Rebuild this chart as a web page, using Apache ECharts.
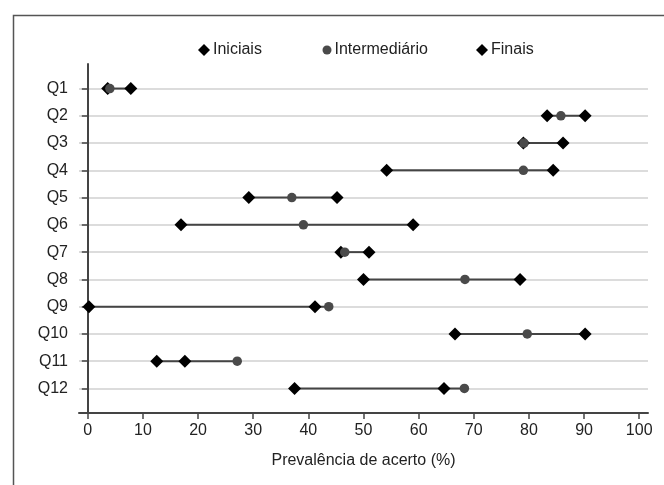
<!DOCTYPE html>
<html>
<head>
<meta charset="utf-8">
<script src="https://cdn.jsdelivr.net/npm/echarts@6/dist/echarts.min.js"></script>
<style>html,body{margin:0;padding:0;background:#fff}#c{width:664px;height:485px}</style>
</head>
<body>
<div id="c"></div>
<script>
const categories = ['Q1','Q2','Q3','Q4','Q5','Q6','Q7','Q8','Q9','Q10','Q11','Q12'];
const iniciais = [3.6, 83.3, 79.0, 54.2, 29.2, 16.9, 45.9, 50.0, 0.2, 66.6, 12.5, 37.5];
const intermediario = [4.0, 85.8, 79.1, 79.0, 37.0, 39.1, 46.6, 68.4, 43.7, 79.7, 27.1, 68.3];
const finais = [7.8, 90.2, 86.2, 84.4, 45.2, 59.0, 51.0, 78.4, 41.2, 90.2, 17.6, 64.6];
const xTicks = [0, 10, 20, 30, 40, 50, 60, 70, 80, 90, 100];
const rowPos = categories.map((c, i) => i + 1);

const FONT = 'Liberation Sans';
const chart = echarts.init(document.getElementById('c'), null, {renderer: 'canvas'});

const connectors = categories.map((c, i) => {
  const vals = [iniciais[i], intermediario[i], finais[i]];
  return [Math.min(...vals), Math.max(...vals), rowPos[i]];
});

function legendAt(left, name, size) {
  return {
    data: [name], left: left, top: 37, itemWidth: size, itemHeight: size, itemGap: 4,
    textStyle: {fontFamily: FONT, fontSize: 16, lineHeight: 16, height: 16, color: '#222', padding: [0, 0, 0, -2]},
    selectedMode: false
  };
}

chart.setOption({
  animation: false,
  backgroundColor: '#fff',
  graphic: [{
    type: 'rect', left: 11, top: 13, shape: {width: 720, height: 520},
    style: {fill: 'none', stroke: '#555', lineWidth: 1.5}, silent: true
  }],
  legend: [legendAt(193, 'Iniciais', 12), legendAt(317.5, 'Intermediário', 9), legendAt(471, 'Finais', 12)],
  grid: {left: 79, right: 16, top: 64, bottom: 72, containLabel: false},
  xAxis: {
    type: 'value', min: -1.6, max: 101.6,
    axisLine: {show: true, lineStyle: {color: '#444', width: 2}},
    axisTick: {show: true, length: 6, customValues: xTicks, lineStyle: {color: '#444', width: 1.5}},
    axisLabel: {customValues: xTicks, fontFamily: FONT, fontSize: 16, color: '#222', margin: 10},
    splitLine: {show: false},
    name: 'Prevalência de acerto (%)', nameLocation: 'middle', nameGap: 40,
    nameTextStyle: {fontFamily: FONT, fontSize: 16, color: '#222'}
  },
  yAxis: {
    type: 'value', inverse: true, min: 0.1, max: 12.9,
    axisLine: {show: true, lineStyle: {color: '#444', width: 2}},
    axisTick: {show: true, length: 6, customValues: rowPos, lineStyle: {color: '#444', width: 1.5}},
    axisLabel: {customValues: rowPos, formatter: v => categories[Math.round(v) - 1] || '',
      fontFamily: FONT, fontSize: 16, color: '#222', margin: 11},
    splitLine: {show: true, lineStyle: {color: '#dcdcdc', width: 2}}
  },
  series: [
    {
      type: 'custom', name: 'conn', data: connectors, z: 1, silent: true,
      renderItem: function (params, api) {
        const a = api.coord([api.value(0), api.value(2)]);
        const b = api.coord([api.value(1), api.value(2)]);
        return {type: 'line', shape: {x1: a[0], y1: a[1], x2: b[0], y2: b[1]},
          style: {stroke: '#444', lineWidth: 2}};
      }
    },
    {type: 'scatter', name: 'Iniciais', symbol: 'diamond', symbolSize: 13, z: 2,
      itemStyle: {color: '#000', opacity: 1}, data: iniciais.map((v, i) => [v, rowPos[i]])},
    {type: 'scatter', name: 'Finais', symbol: 'diamond', symbolSize: 13, z: 3,
      itemStyle: {color: '#000', opacity: 1}, data: finais.map((v, i) => [v, rowPos[i]])},
    {type: 'scatter', name: 'Intermediário', symbol: 'circle', symbolSize: 9.5, z: 4,
      itemStyle: {color: '#4a4a4a', opacity: 1}, data: intermediario.map((v, i) => [v, rowPos[i]])}
  ]
});
</script>
</body>
</html>
